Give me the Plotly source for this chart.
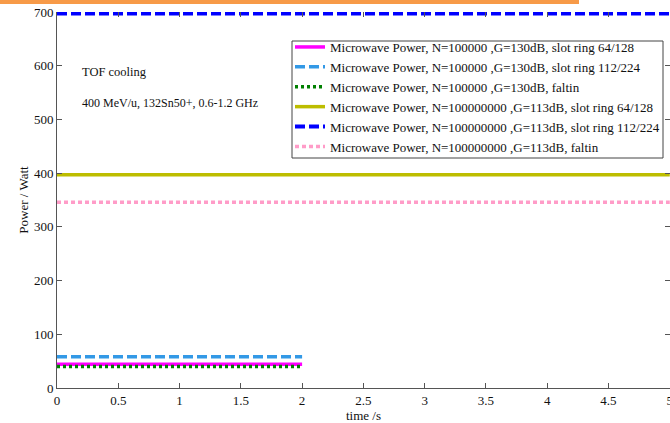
import plotly.graph_objects as go

# ---- data -------------------------------------------------------------
time_short = [0, 2]          # s, N = 1e5 runs
time_long = [0, 5]           # s, N = 1e8 runs

p_n1e5_slot64 = [44, 44]     # W
p_n1e5_slot112 = [58, 58]
p_n1e5_faltin = [40, 40]
p_n1e8_slot64 = [397, 397]
p_n1e8_slot112 = [697, 697]
p_n1e8_faltin = [346, 346]

series_names = [
    "Microwave Power, N=100000 ,G=130dB, slot ring 64/128",
    "Microwave Power, N=100000 ,G=130dB, slot ring 112/224",
    "Microwave Power, N=100000 ,G=130dB, faltin",
    "Microwave Power, N=100000000 ,G=113dB, slot ring 64/128",
    "Microwave Power, N=100000000 ,G=113dB, slot ring 112/224",
    "Microwave Power, N=100000000 ,G=113dB, faltin",
]

x_ticks = [0, 0.5, 1, 1.5, 2, 2.5, 3, 3.5, 4, 4.5, 5]
x_tick_text = ["0", "0.5", "1", "1.5", "2", "2.5", "3", "3.5", "4", "4.5", "5"]
y_ticks = [0, 100, 200, 300, 400, 500, 600, 700]

# ---- styling ----------------------------------------------------------
W, H = 670, 423
ML, MR, MT, MB = 57, 0, 12, 35
PW, PH = W - ML - MR, H - MT - MB
SERIF = "Liberation Serif, Times New Roman, serif"


def px_x(p):
    return (p - ML) / PW


def px_y(p):
    return (H - MB - p) / PH


styles = [
    dict(color="#FF00FF", width=3.5, dash="solid"),
    dict(color="#3399E6", width=3.5, dash="10px,4px"),
    dict(color="#008000", width=3.5, dash="3px,3px"),
    dict(color="#BDBD00", width=3.5, dash="solid"),
    dict(color="#0000FF", width=4, dash="10px,4px"),
    dict(color="#FF9CC8", width=3.5, dash="4px,3px"),
]

xs = [time_short, time_short, time_short, time_long, time_long, time_long]
ys = [p_n1e5_slot64, p_n1e5_slot112, p_n1e5_faltin,
      p_n1e8_slot64, p_n1e8_slot112, p_n1e8_faltin]

fig = go.Figure()
for name, x, y, st in zip(series_names, xs, ys, styles):
    fig.add_trace(go.Scatter(x=x, y=y, mode="lines", name=name, line=st,
                             cliponaxis=False))

axis_common = dict(ticks="inside", ticklen=5, tickcolor="#555555",
                   showgrid=False, zeroline=False, automargin=False,
                   ticklabeloverflow="allow",
                   tickfont=dict(family=SERIF, size=13, color="#111111"))

fig.update_layout(
    width=W, height=H,
    margin=dict(l=ML, r=MR, t=MT, b=MB, pad=0, autoexpand=False),
    paper_bgcolor="white", plot_bgcolor="white",
    font=dict(family=SERIF, size=13, color="#111111"),
    xaxis=dict(range=[0, 5.002], tickvals=x_ticks, ticktext=x_tick_text,
               showline=True, linecolor="#555555", linewidth=1,
               title=dict(text="time /s", standoff=0,
                          font=dict(family=SERIF, size=13)),
               **axis_common),
    yaxis=dict(range=[0, 700], tickvals=y_ticks,
               showline=True, linecolor="#555555", linewidth=1,
               title=dict(text="Power / Watt", standoff=2,
                          font=dict(family=SERIF, size=13)),
               **axis_common),
    # mirrored tick marks on the top and right edges, without a frame line
    xaxis2=dict(overlaying="x", side="top", matches="x",
                tickvals=x_ticks, showticklabels=False, showline=False,
                ticks="inside", ticklen=5, tickcolor="#555555",
                showgrid=False, zeroline=False),
    yaxis2=dict(overlaying="y", side="right", matches="y",
                tickvals=y_ticks, showticklabels=False, showline=False,
                ticks="inside", ticklen=5, tickcolor="#555555",
                showgrid=False, zeroline=False),
    legend=dict(x=px_x(290), xanchor="left", y=px_y(32), yanchor="top",
                bgcolor="rgba(0,0,0,0)", borderwidth=0,
                font=dict(family=SERIF, size=13, color="#111111"),
                itemwidth=30, tracegroupgap=0),
    showlegend=True,
    annotations=[
        dict(text="TOF cooling", x=px_x(80), y=px_y(72), xref="paper",
             yref="paper", xanchor="left", yanchor="middle", showarrow=False,
             font=dict(family=SERIF, size=12.5, color="#111111")),
        dict(text="400 MeV/u, 132Sn50+, 0.6-1.2 GHz", x=px_x(80),
             y=px_y(103), xref="paper", yref="paper", xanchor="left",
             yanchor="middle", showarrow=False,
             font=dict(family=SERIF, size=12, color="#111111")),
    ],
    shapes=[
        # orange strip along the top edge
        dict(type="rect", xref="paper", yref="paper",
             x0=px_x(0), x1=px_x(579), y0=px_y(4), y1=px_y(-2),
             fillcolor="#F79A48", line=dict(width=0), layer="above"),
        # legend frame
        dict(type="rect", xref="paper", yref="paper",
             x0=px_x(292), x1=px_x(663), y0=px_y(158), y1=px_y(41),
             fillcolor="white", line=dict(color="#444444", width=1),
             layer="above"),
    ],
)

# empty trace so the mirrored axes are drawn
fig.add_trace(go.Scatter(x=[None], y=[None], xaxis="x2", yaxis="y2",
                         showlegend=False, hoverinfo="skip"))

fig.write_html("out.html")
